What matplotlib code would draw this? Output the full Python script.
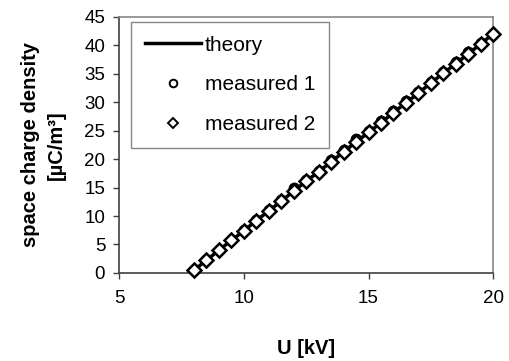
import matplotlib.pyplot as plt

plt.rcParams['font.family'] = ['Liberation Sans', 'DejaVu Sans']

# applied voltage [kV]
voltage = [8.0, 8.5, 9.0, 9.5, 10.0, 10.5, 11.0, 11.5, 12.0, 12.5, 13.0, 13.5,
           14.0, 14.5, 15.0, 15.5, 16.0, 16.5, 17.0, 17.5, 18.0, 18.5, 19.0,
           19.5, 20.0]
# space charge density [uC/m^3]
theory = [0.5, 2.2, 4.0, 5.7, 7.4, 9.2, 10.9, 12.6, 14.4, 16.1, 17.8, 19.5,
          21.3, 23.0, 24.7, 26.4, 28.2, 29.9, 31.6, 33.4, 35.1, 36.8, 38.5,
          40.3, 42.0]
measured1 = [0.5, 2.3, 4.0, 5.8, 7.5, 9.3, 11.0, 12.8, 14.9, 16.3, 17.9, 19.8,
             21.6, 23.6, 24.9, 26.7, 28.4, 30.3, 31.8, 33.6, 35.3, 37.0, 38.9,
             40.5, 42.0]
measured2 = [0.5, 2.2, 4.0, 5.7, 7.4, 9.2, 10.9, 12.6, 14.4, 16.1, 17.8, 19.5,
             21.3, 23.0, 24.7, 26.4, 28.2, 29.9, 31.6, 33.4, 35.1, 36.8, 38.5,
             40.3, 42.0]

fig = plt.figure(figsize=(5.09, 3.61), dpi=100)
ax = fig.add_axes([0.234, 0.244, 0.735, 0.709])

ax.plot(voltage, theory, color='black', lw=2.5, label='theory', zorder=2)
ax.plot(voltage, measured1, ls='none', marker='o', ms=7, mfc='white',
        mec='black', mew=1.5, label='measured 1', zorder=3, clip_on=False)
ax.plot(voltage, measured2, ls='none', marker='D', ms=7.5, mfc='white',
        mec='black', mew=1.8, label='measured 2', zorder=4, clip_on=False)

ax.set_xlim(5, 20)
ax.set_ylim(0, 45)
ax.set_xticks([5, 10, 15, 20])
ax.set_yticks(range(0, 50, 5))
ax.tick_params(direction='out', length=4, width=1, labelsize=13.5,
               color='#404040')
ax.tick_params(axis='x', pad=8)
ax.tick_params(axis='y', pad=6)

for side in ('top', 'right'):
    ax.spines[side].set_color('#888888')
    ax.spines[side].set_linewidth(1.2)
for side in ('left', 'bottom'):
    ax.spines[side].set_color('#404040')
    ax.spines[side].set_linewidth(1.2)

ax.set_xlabel('U [kV]', fontsize=14.5, fontweight='bold', labelpad=23)
ax.set_ylabel('space charge density\n[µC/m³]', fontsize=14.5,
              fontweight='bold', labelpad=13, linespacing=1.5)

leg = ax.legend(loc='upper left', bbox_to_anchor=(0.032, 0.98),
                borderaxespad=0, fontsize=15, handlelength=2.7,
                labelspacing=1.0, fancybox=False, framealpha=1,
                edgecolor='#888888', borderpad=0.65, handletextpad=0.2)
leg.get_frame().set_linewidth(1.0)
for h in leg.legend_handles[1:]:
    h.set_markersize(5.5)
    h.set_markeredgewidth(1.4)

fig.savefig('out.png', dpi=100)
